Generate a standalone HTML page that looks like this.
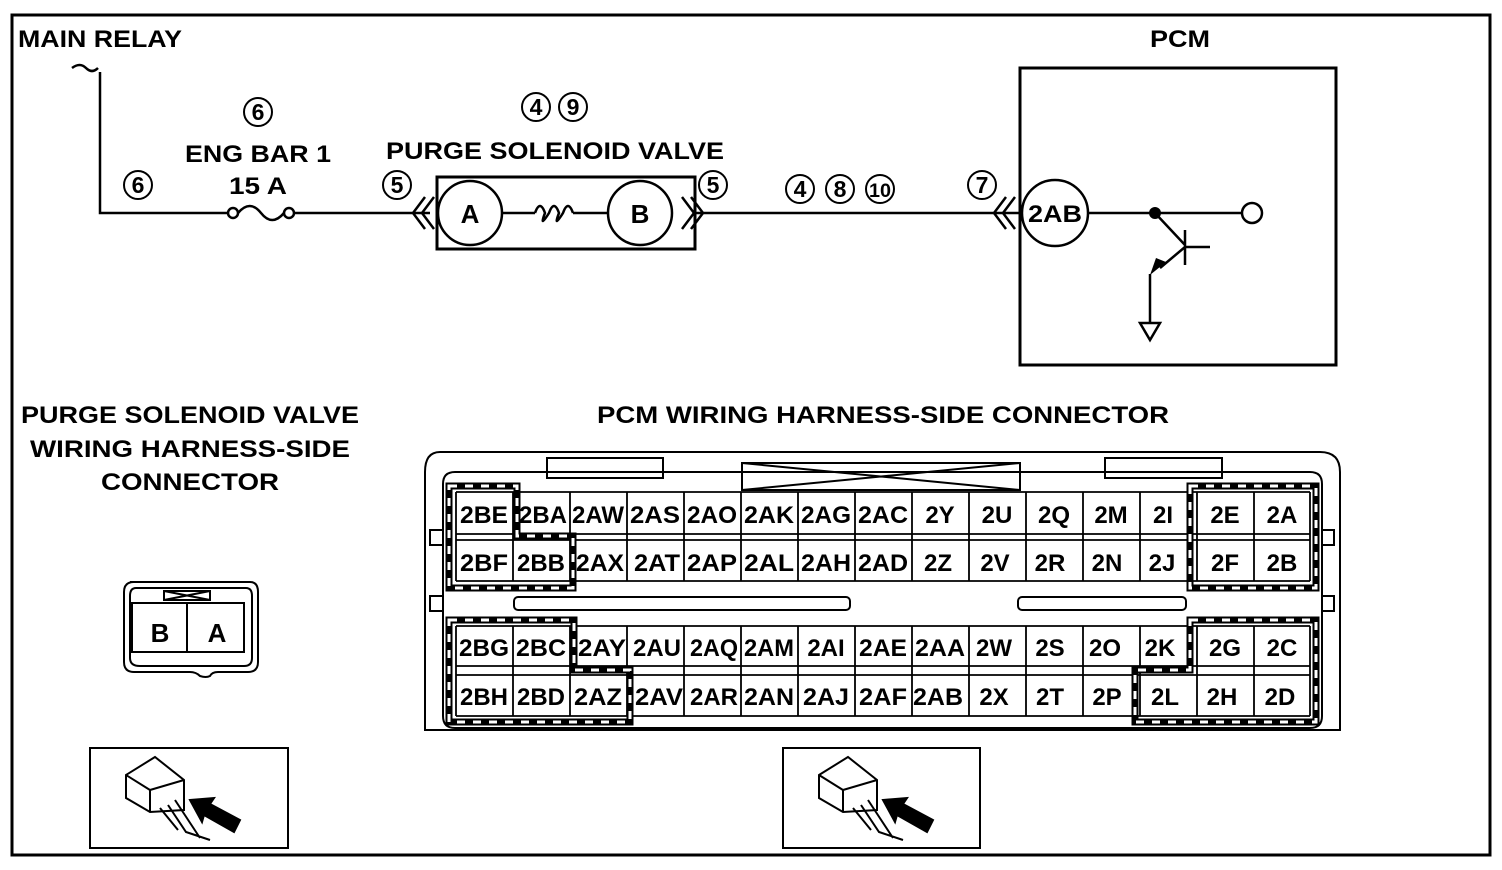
<!DOCTYPE html>
<html><head><meta charset="utf-8"><style>
html,body{margin:0;padding:0;background:#fff}
svg{display:block}
text{font-family:"Liberation Sans",sans-serif;fill:#000;font-weight:bold}
</style></head><body>
<svg width="1502" height="870" viewBox="0 0 1502 870" xmlns="http://www.w3.org/2000/svg">
<rect x="12" y="15" width="1478" height="840" fill="none" stroke="#000" stroke-width="3"/>
<g font-size="24" text-anchor="middle">
<text x="18" y="47" text-anchor="start" textLength="164" lengthAdjust="spacingAndGlyphs">MAIN RELAY</text>
<text x="1180" y="47" textLength="60" lengthAdjust="spacingAndGlyphs">PCM</text>
<text x="258" y="162" textLength="146" lengthAdjust="spacingAndGlyphs">ENG BAR 1</text>
<text x="258" y="194" textLength="58" lengthAdjust="spacingAndGlyphs">15 A</text>
<text x="555" y="159" textLength="338" lengthAdjust="spacingAndGlyphs">PURGE SOLENOID VALVE</text>
<text x="190" y="423" textLength="338" lengthAdjust="spacingAndGlyphs">PURGE SOLENOID VALVE</text>
<text x="190" y="457" textLength="320" lengthAdjust="spacingAndGlyphs">WIRING HARNESS-SIDE</text>
<text x="190" y="490" textLength="178" lengthAdjust="spacingAndGlyphs">CONNECTOR</text>
<text x="883" y="423" textLength="572" lengthAdjust="spacingAndGlyphs">PCM WIRING HARNESS-SIDE CONNECTOR</text>
</g>
<g fill="none" stroke="#000" stroke-width="2">
<circle cx="258" cy="112" r="14"/><circle cx="138" cy="185" r="14"/><circle cx="397" cy="185" r="14"/>
<circle cx="536" cy="107" r="14"/><circle cx="573" cy="107" r="14"/><circle cx="713" cy="185" r="14"/>
<circle cx="800" cy="189" r="14"/><circle cx="840" cy="189" r="14"/><circle cx="880" cy="189" r="14"/>
<circle cx="982" cy="185" r="14"/>
</g>
<g font-size="23" text-anchor="middle">
<text x="258" y="120">6</text><text x="138" y="193">6</text><text x="397" y="193">5</text>
<text x="536" y="115">4</text><text x="573" y="115">9</text><text x="713" y="193">5</text>
<text x="800" y="197">4</text><text x="840" y="197">8</text><text x="880" y="197" font-size="19" textLength="22" lengthAdjust="spacingAndGlyphs">10</text>
<text x="982" y="193">7</text>
</g>
<g fill="none" stroke="#000" stroke-width="2.5">
<path d="M72 68 q8 -6 14 0 q6 6 12 0" />
<path d="M100 72 V213 H228"/>
<circle cx="233" cy="213" r="5"/><circle cx="289" cy="213" r="5"/>
<path d="M238 213 q12 -14 23 0 q11 14 23 0"/>
<path d="M294 213 H430"/>
<path d="M425 197 L413 213 L425 229 M434 197 L422 213 L434 229"/>
<rect x="437" y="177" width="258" height="72" stroke-width="3"/>
<circle cx="470" cy="213" r="32"/><circle cx="640" cy="213" r="32"/>
<path d="M502 213 H535 M535 213 q5 -14 10 0 q-6 16 4 0 q5 -14 10 0 q-6 16 4 0 q5 -14 10 0 M573 213 H608"/>
<path d="M682 197 L694 213 L682 229 M691 197 L703 213 L691 229"/>
<path d="M695 213 H1020"/>
<path d="M1006 197 L994 213 L1006 229 M1015 197 L1003 213 L1015 229"/>
<rect x="1020" y="68" width="316" height="297" stroke-width="3"/>
<circle cx="1055" cy="213" r="33"/>
<path d="M1088 213 H1242"/>
<circle cx="1252" cy="213" r="10"/>
<path d="M1155 213 L1185 245 M1185 230 V265 M1185 247 H1210 M1185 247 L1160 268 M1150 274 V323"/>
<path d="M1140 323 H1160 L1150 340 Z"/>
</g>
<circle cx="1155" cy="213" r="6"/>
<path d="M1166 262 L1150 275 L1156 258 Z" fill="#000"/>
<text x="1055" y="222" font-size="24" text-anchor="middle" textLength="54" lengthAdjust="spacingAndGlyphs">2AB</text>
<text x="470" y="223" font-size="26" text-anchor="middle">A</text>
<text x="640" y="223" font-size="26" text-anchor="middle">B</text>

<g fill="none" stroke="#000" stroke-width="2">
<path d="M130 582 H250 Q258 582 258 592 V662 Q258 672 248 672 H218 Q212 672 210 676 Q206 678 200 676 Q196 672 190 672 H134 Q124 672 124 662 V592 Q124 582 134 582 Z"/>
<path d="M136 588 H246 Q252 588 252 596 V658 Q252 666 244 666 H140 Q130 666 130 658 V596 Q130 588 136 588 Z"/>
<rect x="132" y="603" width="112" height="49"/>
<path d="M187 603 V652 M164 591 H210 V600 H164 Z M164 591 L210 600 M210 591 L164 600"/>
</g>
<text x="160" y="642" font-size="26" text-anchor="middle">B</text>
<text x="217" y="642" font-size="26" text-anchor="middle">A</text>

<g fill="none" stroke="#000" stroke-width="2">
<rect x="90" y="748" width="198" height="100"/>
<rect x="783" y="748" width="197" height="100"/>
</g>
<g id="ic" fill="#fff" stroke="#000" stroke-width="2">
<path d="M126 775 L155 757 L184 780 L184 810 L150 812 L126 798 Z"/>
<path d="M126 775 L150 790 L184 780 M150 790 V812" fill="none"/>
<path d="M160 808 L178 830 M168 805 L186 832 L210 840 M175 800 L200 838" fill="none"/>
<path d="M190 800 L214 798 L210 804 L240 820 L234 832 L204 815 L202 822 Z" fill="#000"/>
</g>
<use href="#ic" x="693" y="0"/>

<g fill="none" stroke="#000" stroke-width="2">
<path d="M440 452 H1320 Q1340 452 1340 472 V730 H425 V472 Q425 452 440 452 Z"/>
<path d="M455 472 H1310 Q1322 472 1322 484 V716 Q1322 728 1310 728 H455 Q443 728 443 716 V484 Q443 472 455 472 Z"/>
<rect x="547" y="458" width="116" height="20"/>
<rect x="1105" y="458" width="117" height="20"/>
<path d="M742 463 H1020 V490 H742 Z M742 463 L1020 490 M1020 463 L742 490"/>
<rect x="514" y="597" width="336" height="13" rx="4"/>
<rect x="1018" y="597" width="168" height="13" rx="4"/>
<rect x="430" y="530" width="13" height="15"/><rect x="430" y="596" width="13" height="15"/>
<rect x="1322" y="530" width="12" height="15"/><rect x="1322" y="596" width="12" height="15"/>
</g>
<g fill="none" stroke="#000" stroke-width="1.8">
<path d="M456 492 H1310 M456 534 H1310 M456 540 H1310 M456 581 H1310 M456 626 H1310 M456 666 H1310 M456 675 H1310 M456 716 H1310"/>
<path d="M456 492V581 M513 492V581 M570 492V581 M627 492V581 M684 492V581 M741 492V581 M798 492V581 M855 492V581 M912 492V581 M969 492V581 M1026 492V581 M1083 492V581 M1140 492V581 M1197 492V581 M1254 492V581 M1310 492V581"/>
<path d="M456 626V716 M513 626V716 M570 626V716 M627 626V716 M684 626V716 M741 626V716 M798 626V716 M855 626V716 M912 626V716 M969 626V716 M1026 626V716 M1083 626V716 M1140 626V716 M1197 626V716 M1254 626V716 M1310 626V716"/>
</g>
<g fill="none" stroke="#000" stroke-width="7">
<path d="M449 486 H517 V536 H573 V588 H449 Z"/>
<path d="M449 620 H574 V670 H630 V722 H449 Z"/>
<path d="M1190 486 H1316 V588 H1190 Z"/>
<path d="M1190 620 H1316 V722 H1135 V670 H1190 Z"/>
</g>
<g fill="none" stroke="#fff" stroke-width="3" stroke-dasharray="8 8">
<path d="M449 486 H517 V536 H573 V588 H449 Z"/>
<path d="M449 620 H574 V670 H630 V722 H449 Z"/>
<path d="M1190 486 H1316 V588 H1190 Z"/>
<path d="M1190 620 H1316 V722 H1135 V670 H1190 Z"/>
</g>
<g font-size="24" text-anchor="middle">
<g transform="translate(0,523)">
<text x="484" textLength="48" lengthAdjust="spacingAndGlyphs">2BE</text><text x="543" textLength="48" lengthAdjust="spacingAndGlyphs">2BA</text><text x="598" textLength="52" lengthAdjust="spacingAndGlyphs">2AW</text><text x="655" textLength="50" lengthAdjust="spacingAndGlyphs">2AS</text><text x="712" textLength="50" lengthAdjust="spacingAndGlyphs">2AO</text><text x="769" textLength="50" lengthAdjust="spacingAndGlyphs">2AK</text><text x="826" textLength="50" lengthAdjust="spacingAndGlyphs">2AG</text><text x="883" textLength="50" lengthAdjust="spacingAndGlyphs">2AC</text><text x="940">2Y</text><text x="997">2U</text><text x="1054">2Q</text><text x="1111">2M</text><text x="1163">2I</text><text x="1225">2E</text><text x="1282">2A</text>
</g>
<g transform="translate(0,571)">
<text x="484" textLength="48" lengthAdjust="spacingAndGlyphs">2BF</text><text x="541" textLength="48" lengthAdjust="spacingAndGlyphs">2BB</text><text x="600" textLength="48" lengthAdjust="spacingAndGlyphs">2AX</text><text x="657" textLength="46" lengthAdjust="spacingAndGlyphs">2AT</text><text x="712" textLength="50" lengthAdjust="spacingAndGlyphs">2AP</text><text x="769" textLength="50" lengthAdjust="spacingAndGlyphs">2AL</text><text x="826" textLength="50" lengthAdjust="spacingAndGlyphs">2AH</text><text x="883" textLength="50" lengthAdjust="spacingAndGlyphs">2AD</text><text x="938">2Z</text><text x="995">2V</text><text x="1050">2R</text><text x="1107">2N</text><text x="1162">2J</text><text x="1225">2F</text><text x="1282">2B</text>
</g>
<g transform="translate(0,656)">
<text x="484" textLength="50" lengthAdjust="spacingAndGlyphs">2BG</text><text x="541" textLength="50" lengthAdjust="spacingAndGlyphs">2BC</text><text x="602" textLength="48" lengthAdjust="spacingAndGlyphs">2AY</text><text x="657" textLength="48" lengthAdjust="spacingAndGlyphs">2AU</text><text x="714" textLength="48" lengthAdjust="spacingAndGlyphs">2AQ</text><text x="769" textLength="50" lengthAdjust="spacingAndGlyphs">2AM</text><text x="826">2AI</text><text x="883" textLength="48" lengthAdjust="spacingAndGlyphs">2AE</text><text x="940" textLength="50" lengthAdjust="spacingAndGlyphs">2AA</text><text x="994">2W</text><text x="1050">2S</text><text x="1105">2O</text><text x="1160">2K</text><text x="1225">2G</text><text x="1282">2C</text>
</g>
<g transform="translate(0,705)">
<text x="484" textLength="48" lengthAdjust="spacingAndGlyphs">2BH</text><text x="541" textLength="48" lengthAdjust="spacingAndGlyphs">2BD</text><text x="598" textLength="48" lengthAdjust="spacingAndGlyphs">2AZ</text><text x="659" textLength="48" lengthAdjust="spacingAndGlyphs">2AV</text><text x="714" textLength="48" lengthAdjust="spacingAndGlyphs">2AR</text><text x="769" textLength="50" lengthAdjust="spacingAndGlyphs">2AN</text><text x="826" textLength="46" lengthAdjust="spacingAndGlyphs">2AJ</text><text x="883" textLength="48" lengthAdjust="spacingAndGlyphs">2AF</text><text x="938" textLength="50" lengthAdjust="spacingAndGlyphs">2AB</text><text x="994">2X</text><text x="1050">2T</text><text x="1107">2P</text><text x="1165">2L</text><text x="1222">2H</text><text x="1280">2D</text>
</g>
</g>
</svg>
</body></html>
